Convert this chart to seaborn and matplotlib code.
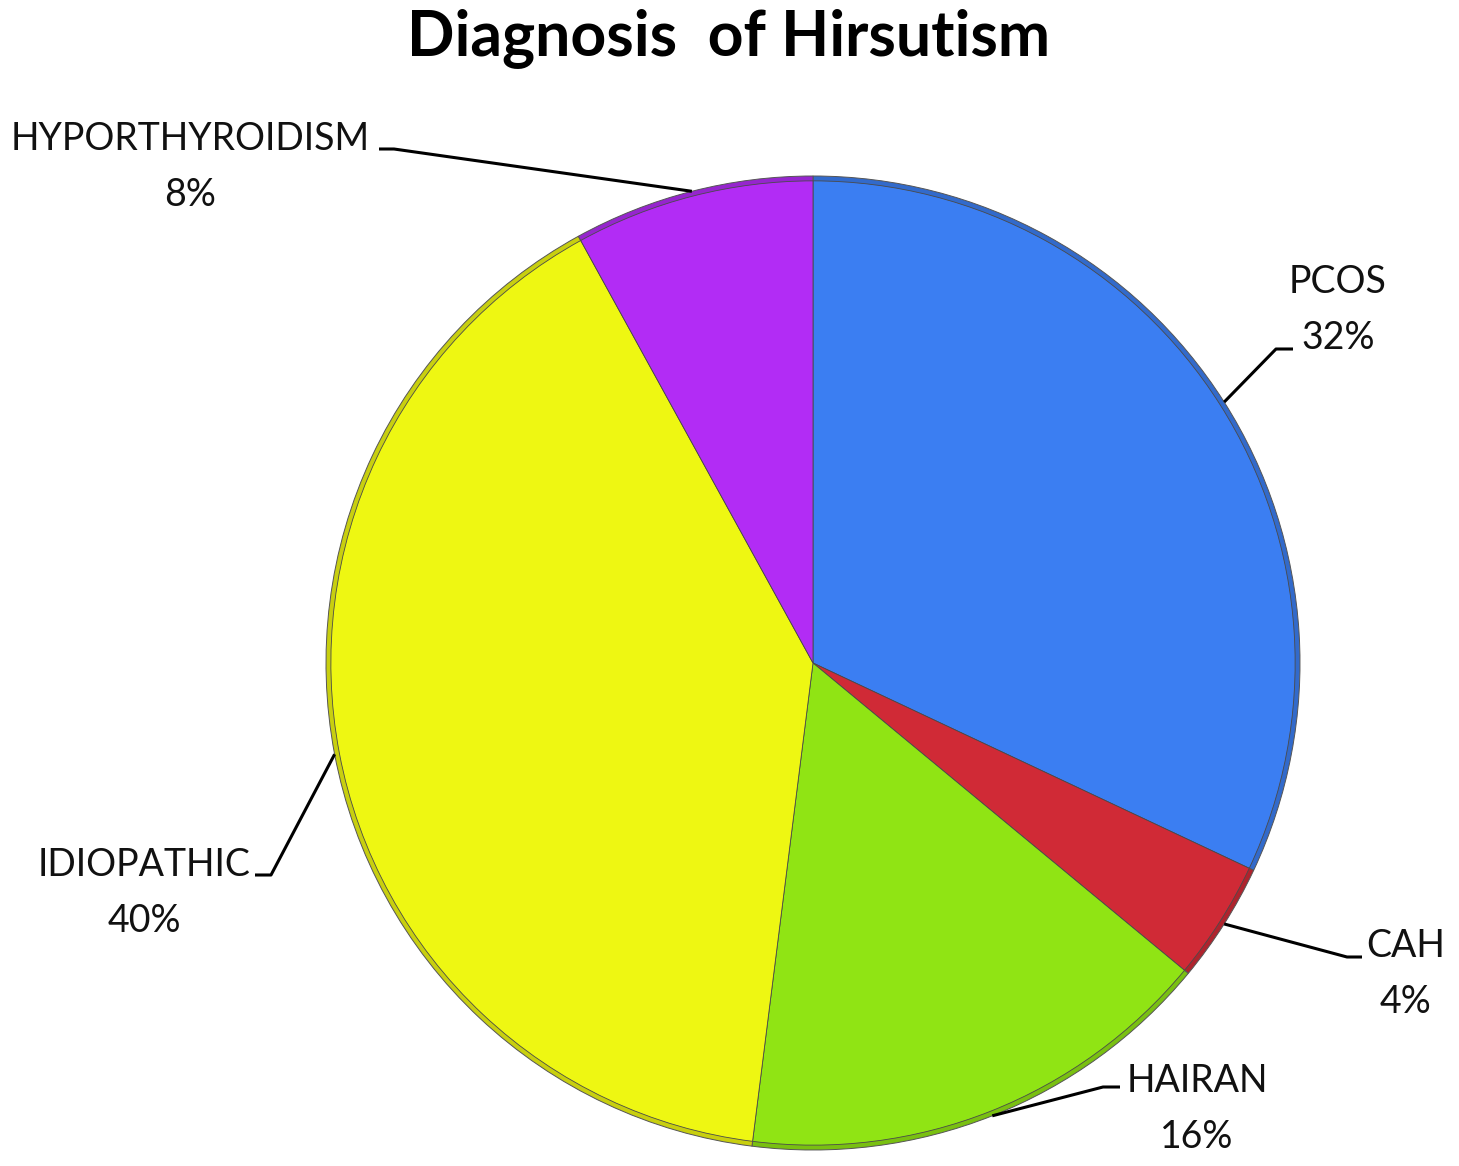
import numpy as np
import matplotlib
matplotlib.use("Agg")
import matplotlib.pyplot as plt
import matplotlib.colors as mcolors
import seaborn as sns

# data
categories = ["PCOS", "CAH", "HAIRAN", "IDIOPATHIC", "HYPORTHYROIDISM"]
percent = [32, 4, 16, 40, 8]
colors = ["#3B7EF2", "#D02A36", "#90E414", "#EEF712", "#B22CF5"]

sns.set_style("white")
plt.rcParams['font.family'] = ['Lato', 'DejaVu Sans']

W, H = 1459, 1166
fig = plt.figure(figsize=(W / 100, H / 100), dpi=100)
fig.patch.set_facecolor('white')

# pie centre (813, 663) px, radius 487 px
R = 487
cx, cy = 813, 663
ax = fig.add_axes([(cx - R) / W, (H - cy - R) / H, 2 * R / W, 2 * R / H])

# slightly darker rim underneath to mimic the bevel of the original
dark = [tuple(np.array(mcolors.to_rgb(c)) * 0.84) for c in colors]
ax.pie(percent, colors=dark, startangle=90, counterclock=False, radius=1.0,
       wedgeprops=dict(edgecolor='#555555', linewidth=0.7))
wedges, _ = ax.pie(percent, colors=colors, startangle=90, counterclock=False,
                   radius=0.99, wedgeprops=dict(edgecolor='#4a4a4a', linewidth=0.6))
ax.set_xlim(-1, 1)
ax.set_ylim(-1, 1)
ax.set_aspect('equal')
ax.axis('off')

def px(x, y):
    # pixel position in the picture -> data units of the pie axes
    return (x - cx) / R, (cy - y) / R

# label layout: text centre x, first baseline y, leader elbow, leader end (all in px)
layout = {
    "PCOS":            dict(tx=1338, by=293, elbow=(1276, 349), end=(1293, 349)),
    "CAH":             dict(tx=1406, by=957, elbow=(1347, 957), end=(1362, 957)),
    "HAIRAN":          dict(tx=1197, by=1092, elbow=(1103, 1087), end=(1120, 1087)),
    "IDIOPATHIC":      dict(tx=144, by=876, elbow=(271, 875), end=(255, 875)),
    "HYPORTHYROIDISM": dict(tx=190, by=150, elbow=(394, 149), end=(379, 149)),
}

fs = 27
for w, name, p in zip(wedges, categories, percent):
    L = layout[name]
    mid = np.deg2rad((w.theta1 + w.theta2) / 2)
    ax_, ay_ = np.cos(mid), np.sin(mid)
    ex, ey = px(*L["elbow"])
    nx, ny = px(*L["end"])
    ax.plot([ax_, ex, nx], [ay_, ey, ny], color='black', lw=2.2,
            solid_capstyle='butt', clip_on=False)
    tx, ty1 = px(L["tx"], L["by"])
    _, ty2 = px(L["tx"], L["by"] + 56)
    ax.text(tx, ty1, name, ha='center', va='baseline', fontsize=fs, color='#111111')
    ax.text(tx, ty2, f"{p}%", ha='center', va='baseline', fontsize=fs, color='#111111')

fig.text(729 / W, 1 - 55 / H, "Diagnosis  of Hirsutism", ha='center', va='baseline',
         fontsize=45, fontweight='bold', color='black')

fig.savefig("out.png", dpi=100, facecolor='white')
